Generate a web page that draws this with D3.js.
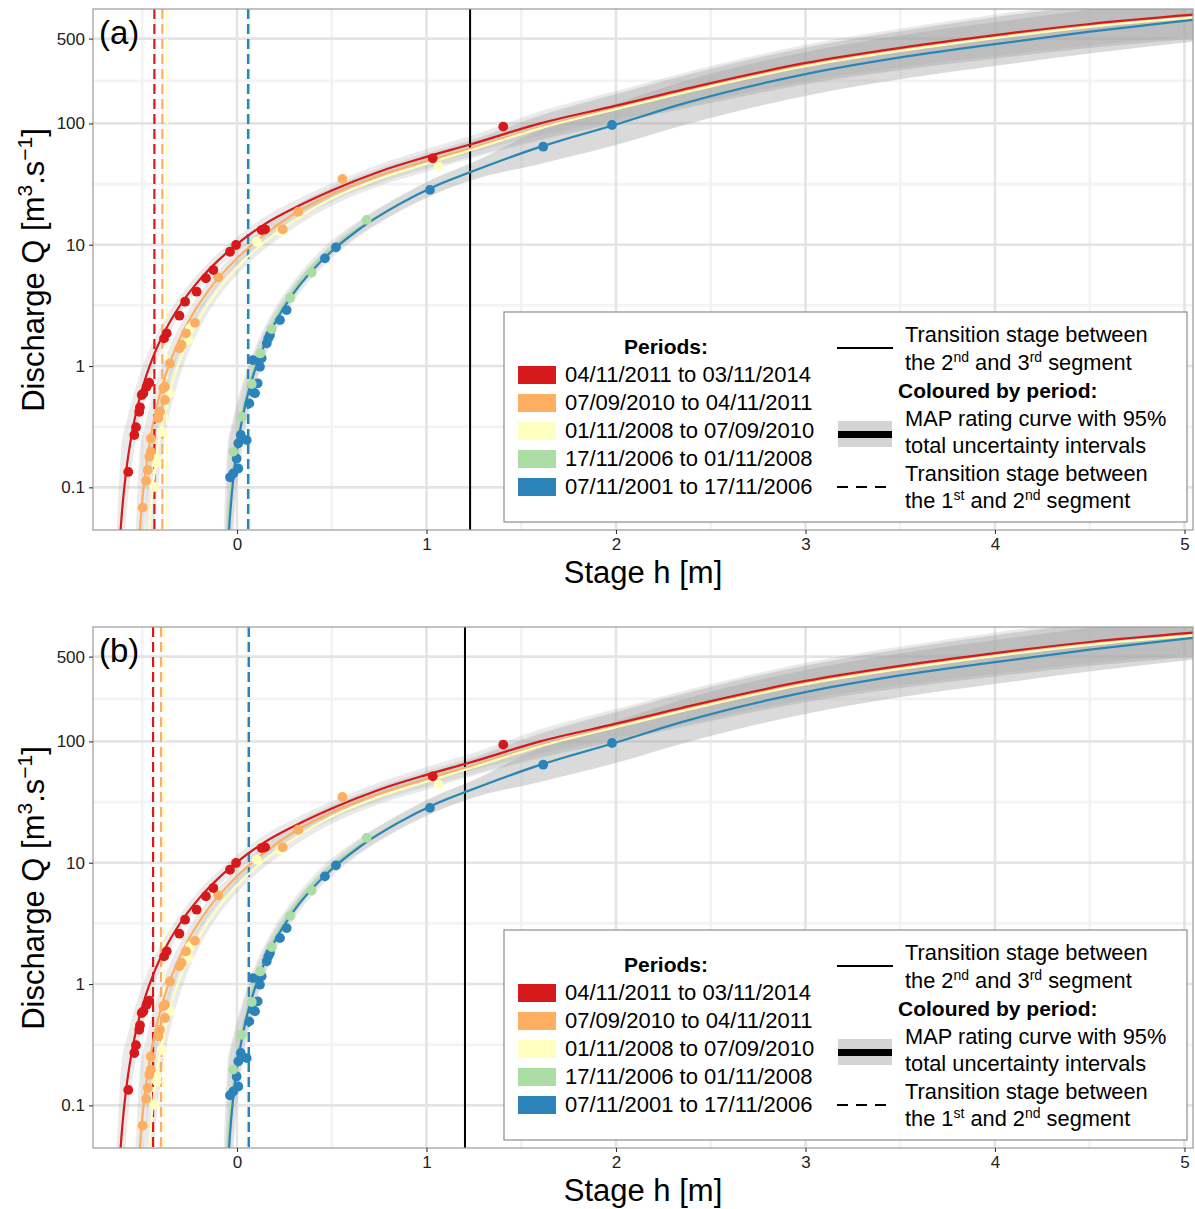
<!DOCTYPE html>
<html><head><meta charset="utf-8">
<script src="https://cdn.jsdelivr.net/npm/d3@7"></script>
<style>
body{margin:0;background:#fff}
svg{display:block}
text{font-family:"Liberation Sans",Arial,Helvetica,sans-serif}
</style>
</head><body>
<svg id="chart" width="1195" height="1209"></svg>
<script>
// ---------------- data ----------------
const periods = ["04/11/2011 to 03/11/2014","07/09/2010 to 04/11/2011","01/11/2008 to 07/09/2010","17/11/2006 to 01/11/2008","07/11/2001 to 17/11/2006"];
const periodColors = ["#d7191c","#fdae61","#ffffbf","#abdda4","#2b83ba"];
const xTicks = [0,1,2,3,4,5];
const xMinorTicks = [-0.5,0.5,1.5,2.5,3.5,4.5];
const yTicks = [0.1,1,10,100,500];
const yTickLabels = ["0.1","1","10","100","500"];
const yMinorTicks = [0.316,3.16,31.6,224];

// rating curves: [stage h, MAP discharge Q, log10 half-width of 95% band]
const curveRed = [[-0.635,0.0088,0.7],[-0.62,0.032,0.6],[-0.61,0.055,0.6],[-0.60,0.083,0.52],[-0.58,0.156,0.37],[-0.55,0.305,0.26],[-0.52,0.498,0.2],[-0.48,0.823,0.153],[-0.44,1.22,0.124],[-0.38,1.95,0.096],[-0.30,3.17,0.074],[-0.20,5.08,0.065],[-0.10,7.39,0.06],[0.0,10.1,0.06],[0.15,14.9,0.06],[0.3,20,0.06],[0.5,28,0.06],[0.75,40,0.06],[1.0,53,0.065],[1.23,67,0.07],[1.6,100,0.1],[2.0,140,0.12],[2.5,215,0.14],[3.0,315,0.15],[3.5,420,0.16],[4.0,535,0.17],[4.5,660,0.175],[5.1,800,0.18]];
const curveOrange = [[-0.535,0.0077,0.7],[-0.52,0.029,0.7],[-0.51,0.0505,0.65],[-0.50,0.0776,0.53],[-0.48,0.148,0.38],[-0.45,0.293,0.27],[-0.42,0.486,0.205],[-0.38,0.813,0.157],[-0.33,1.33,0.121],[-0.26,2.27,0.092],[-0.15,4.21,0.067],[0.0,7.74,0.06],[0.15,12.3,0.06],[0.3,17.9,0.06],[0.5,26,0.06],[0.75,37,0.06],[1.0,49,0.065],[1.23,62,0.07],[1.6,93,0.1],[2.0,133,0.12],[2.5,205,0.14],[3.0,300,0.15],[3.5,400,0.16],[4.0,510,0.17],[4.5,630,0.175],[5.1,765,0.18]];
const curveYellow = [[-0.485,0.0083,0.7],[-0.47,0.031,0.7],[-0.46,0.0534,0.66],[-0.45,0.0817,0.53],[-0.43,0.155,0.38],[-0.40,0.305,0.26],[-0.37,0.502,0.2],[-0.33,0.835,0.155],[-0.28,1.36,0.12],[-0.20,2.46,0.088],[-0.10,4.24,0.066],[0.0,6.48,0.06],[0.15,10.7,0.06],[0.3,15.8,0.06],[0.5,24,0.06],[0.75,35,0.06],[1.0,46.5,0.065],[1.23,60,0.07],[1.6,91,0.1],[2.0,131,0.12],[2.5,202,0.14],[3.0,296,0.15],[3.5,396,0.16],[4.0,505,0.17],[4.5,625,0.175],[5.1,760,0.18]];
const curveGreen = [[-0.07,0.009,0.7],[-0.06,0.0238,0.7],[-0.05,0.0452,0.7],[-0.04,0.0729,0.59],[-0.02,0.147,0.41],[0.01,0.301,0.28],[0.04,0.508,0.21],[0.08,0.86,0.16],[0.13,1.42,0.123],[0.19,2.27,0.096],[0.3,4.3,0.069],[0.45,8.05,0.06],[0.65,14.0,0.06],[0.85,21.5,0.06],[1.05,30.8,0.065],[1.23,39.7,0.07],[1.6,64.3,0.14],[2.0,98.5,0.17],[2.35,146,0.18],[3.0,256,0.18],[3.5,351,0.18],[4.0,452,0.18],[4.5,572,0.18],[5.1,732,0.18]];
const curveBlue = [[-0.06,0.0104,0.7],[-0.05,0.0268,0.7],[-0.04,0.0498,0.7],[-0.03,0.0793,0.57],[-0.01,0.157,0.4],[0.02,0.316,0.27],[0.05,0.526,0.205],[0.09,0.878,0.156],[0.14,1.43,0.12],[0.2,2.26,0.093],[0.3,4.01,0.069],[0.45,7.47,0.06],[0.65,13.6,0.06],[0.85,21.3,0.06],[1.05,30.6,0.065],[1.23,39.5,0.07],[1.6,64,0.14],[2.0,98,0.17],[2.35,145,0.18],[3.0,255,0.18],[3.5,350,0.18],[4.0,450,0.18],[4.5,570,0.18],[5.1,730,0.18]];

// gaugings: [stage h, discharge Q]
const pointsRed = [[-0.574,0.134],[-0.542,0.27],[-0.533,0.313],[-0.516,0.42],[-0.512,0.457],[-0.503,0.577],[-0.494,0.596],[-0.477,0.675],[-0.463,0.728],[-0.385,1.69],[-0.371,1.86],[-0.304,2.60],[-0.274,3.39],[-0.213,4.10],[-0.164,5.29],[-0.125,6.18],[-0.037,8.75],[-0.005,9.95],[0.130,13.2],[0.148,13.4],[1.033,51.5],[1.405,94]];
const pointsOrange = [[-0.498,0.068],[-0.480,0.113],[-0.471,0.139],[-0.463,0.179],[-0.455,0.197],[-0.455,0.253],[-0.415,0.371],[-0.406,0.42],[-0.380,0.525],[-0.389,0.655],[-0.380,0.675],[-0.354,1.05],[-0.304,1.40],[-0.292,1.49],[-0.269,1.86],[-0.222,2.27],[-0.099,5.39],[0.241,13.4],[0.323,18.7],[0.556,34.8]];
const pointsYellow = [[-0.436,0.101],[-0.424,0.158],[-0.424,0.173],[-0.397,0.287],[-0.354,0.596],[-0.257,1.64],[-0.248,2.05],[0.104,10.6],[0.23,12.8],[1.064,44]];
const pointsGreen = [[-0.020,0.197],[0.025,0.382],[0.078,0.711],[0.123,1.27],[0.183,2.02],[0.281,3.65],[0.394,5.90],[0.684,16.0]];
const pointsBlue = [[-0.037,0.121],[-0.020,0.130],[0.007,0.143],[-0.002,0.173],[0.007,0.231],[0.020,0.27],[0.051,0.245],[0.065,0.492],[0.083,0.614],[0.095,0.596],[0.109,0.72],[0.121,0.987],[0.083,1.12],[0.130,1.16],[0.157,1.54],[0.165,1.69],[0.174,1.80],[0.227,2.39],[0.262,2.89],[0.464,7.72],[0.522,9.52],[1.018,28.3],[1.616,64.3],[1.979,97]];

// transition stages (order: red, orange, yellow, green, blue)
const transition23 = [1.23, 1.203];
const transition12A = [-0.436,-0.394,-0.369,0.064,0.058];
const transition12B = [-0.443,-0.401,-0.385,0.058,0.063];

// ---------------- drawing ----------------
const curves = [curveRed,curveOrange,curveYellow,curveGreen,curveBlue];
const pointSets = [pointsRed,pointsOrange,pointsYellow,pointsGreen,pointsBlue];
const svg = d3.select("#chart");
svg.append("rect").attr("width",1195).attr("height",1209).attr("fill","#fff");

function drawPanel(ofs, label, k23, k12){
  const top = 9+ofs, bottom = 530+ofs, left = 93, right = 1193;
  const x = d3.scaleLinear().domain([-0.76,5.045]).range([left,right]);
  const y = d3.scaleLog().domain([0.0445,877]).range([bottom,top]);
  const clipId = "clip"+ofs;
  svg.append("clipPath").attr("id",clipId).append("rect")
    .attr("x",left).attr("y",top).attr("width",right-left).attr("height",bottom-top);
  const g = svg.append("g");
  const p = g.append("g").attr("clip-path",`url(#${clipId})`);

  // grid
  p.selectAll(".xmin").data(xMinorTicks).join("line")
    .attr("x1",d=>x(d)).attr("x2",d=>x(d)).attr("y1",top).attr("y2",bottom)
    .attr("stroke","#f3f3f3").attr("stroke-width",2.6);
  p.selectAll(".ymin").data(yMinorTicks).join("line")
    .attr("y1",d=>y(d)).attr("y2",d=>y(d)).attr("x1",left).attr("x2",right)
    .attr("stroke","#f3f3f3").attr("stroke-width",2.6);
  p.selectAll(".xmaj").data(xTicks).join("line")
    .attr("x1",d=>x(d)).attr("x2",d=>x(d)).attr("y1",top).attr("y2",bottom)
    .attr("stroke","#e4e4e4").attr("stroke-width",2.6);
  p.selectAll(".ymaj").data(yTicks).join("line")
    .attr("y1",d=>y(d)).attr("y2",d=>y(d)).attr("x1",left).attr("x2",right)
    .attr("stroke","#e4e4e4").attr("stroke-width",2.6);

  // ribbons
  const area = d3.area().x(d=>x(d[0]))
    .y0(d=>y(d[1]/Math.pow(10,d[2]))).y1(d=>y(d[1]*Math.pow(10,d[2])))
    .curve(d3.curveMonotoneX);
  curves.forEach(c=>{
    p.append("path").attr("d",area(c)).attr("fill","#a6a6a6").attr("fill-opacity",0.24);
  });

  // transition 1-2 (dashed)
  [1,2,0,3,4].forEach(i=>{
    p.append("line").attr("x1",x(k12[i])).attr("x2",x(k12[i])).attr("y1",top).attr("y2",bottom)
      .attr("stroke",periodColors[i]).attr("stroke-width",2.2).attr("stroke-dasharray","10,5");
  });
  // transition 2-3 (solid)
  p.append("line").attr("x1",x(k23)).attr("x2",x(k23)).attr("y1",top).attr("y2",bottom)
    .attr("stroke","#000").attr("stroke-width",2);

  // curves
  const line = d3.line().x(d=>x(d[0])).y(d=>y(d[1])).curve(d3.curveMonotoneX);
  [3,4,1,2,0].forEach(i=>{
    p.append("path").attr("d",line(curves[i])).attr("fill","none")
      .attr("stroke",periodColors[i]).attr("stroke-width",2.2);
  });

  // points
  [4,3,2,1,0].forEach(i=>{
    p.selectAll(null).data(pointSets[i]).join("circle")
      .attr("cx",d=>x(d[0])).attr("cy",d=>y(d[1])).attr("r",4.9)
      .attr("fill",periodColors[i]);
  });

  // border
  g.append("rect").attr("x",left).attr("y",top).attr("width",right-left).attr("height",bottom-top)
    .attr("fill","none").attr("stroke","#9a9a9a").attr("stroke-width",1.2);

  // axes
  const xa = g.append("g").attr("transform",`translate(0,${bottom})`)
    .call(d3.axisBottom(x).tickValues(xTicks).tickFormat(d3.format("d")).tickSize(4).tickPadding(4));
  const ya = g.append("g").attr("transform",`translate(${left},0)`)
    .call(d3.axisLeft(y).tickValues(yTicks).tickFormat((d,i)=>yTickLabels[i]).tickSize(4).tickPadding(4));
  [xa,ya].forEach(a=>{
    a.select(".domain").remove();
    a.selectAll(".tick line").attr("stroke","#333").attr("stroke-width",1.1);
    a.selectAll(".tick text").attr("fill","#222").attr("font-size",17)
      .attr("font-family","'Liberation Sans',Arial,sans-serif");
  });

  // axis titles
  g.append("text").attr("x",643).attr("y",583+ofs).attr("text-anchor","middle")
    .attr("font-size",31).attr("fill","#000").text("Stage h [m]");
  const yt = g.append("text").attr("transform",`translate(44,${270+ofs}) rotate(-90)`)
    .attr("text-anchor","middle").attr("font-size",31).attr("fill","#000");
  yt.append("tspan").text("Discharge Q [m");
  yt.append("tspan").attr("dy",-12).attr("font-size",21).text("3");
  yt.append("tspan").attr("dy",12).text(".s");
  yt.append("tspan").attr("dy",-12).attr("font-size",21).text("\u22121");
  yt.append("tspan").attr("dy",12).text("]");

  // panel tag
  g.append("text").attr("x",99).attr("y",44+ofs).attr("font-size",33).attr("fill","#000").text(label);

  // legend
  const L = g.append("g").attr("transform",`translate(0,${ofs})`);
  L.append("rect").attr("x",504).attr("y",312).attr("width",683).attr("height",210)
    .attr("fill","#fff").attr("stroke","#8c8c8c").attr("stroke-width",1.2);
  L.append("text").attr("x",666).attr("y",354).attr("text-anchor","middle")
    .attr("font-size",21).attr("font-weight","bold").text("Periods:");
  periods.forEach((t,i)=>{
    L.append("rect").attr("x",518).attr("y",366+28*i).attr("width",38).attr("height",18)
      .attr("fill",periodColors[i]);
    L.append("text").attr("x",565).attr("y",382+28*i).attr("font-size",22).text(t);
  });
  const sup = (el, parts)=>{
    parts.forEach(pp=>{
      if(pp[1]) el.append("tspan").attr("dy",-8).attr("font-size",14).text(pp[0]);
      else el.append("tspan").attr("dy",pp[2]||0).text(pp[0]);
    });
  };
  L.append("line").attr("x1",837).attr("x2",893).attr("y1",348).attr("y2",348)
    .attr("stroke","#000").attr("stroke-width",2.2);
  L.append("text").attr("x",905).attr("y",342).attr("font-size",21.8).text("Transition stage between");
  sup(L.append("text").attr("x",905).attr("y",370).attr("font-size",21.8),
    [["the 2"],["nd",true],[" and 3",false,8],["rd",true],[" segment",false,8]]);
  L.append("text").attr("x",898).attr("y",398).attr("font-size",21).attr("font-weight","bold").text("Coloured by period:");
  L.append("rect").attr("x",838).attr("y",421).attr("width",54).attr("height",26).attr("fill","#d4d4d4");
  L.append("line").attr("x1",838).attr("x2",892).attr("y1",434.5).attr("y2",434.5)
    .attr("stroke","#000").attr("stroke-width",7);
  L.append("text").attr("x",905).attr("y",426).attr("font-size",21.8).text("MAP rating curve with 95%");
  L.append("text").attr("x",905).attr("y",453).attr("font-size",21.8).text("total uncertainty intervals");
  L.append("line").attr("x1",837).attr("x2",893).attr("y1",487).attr("y2",487)
    .attr("stroke","#000").attr("stroke-width",2.2).attr("stroke-dasharray","11,8");
  L.append("text").attr("x",905).attr("y",481).attr("font-size",21.8).text("Transition stage between");
  sup(L.append("text").attr("x",905).attr("y",508).attr("font-size",21.8),
    [["the 1"],["st",true],[" and 2",false,8],["nd",true],[" segment",false,8]]);
}

drawPanel(0, "(a)", transition23[0], transition12A);
drawPanel(618, "(b)", transition23[1], transition12B);
</script>
</body></html>
